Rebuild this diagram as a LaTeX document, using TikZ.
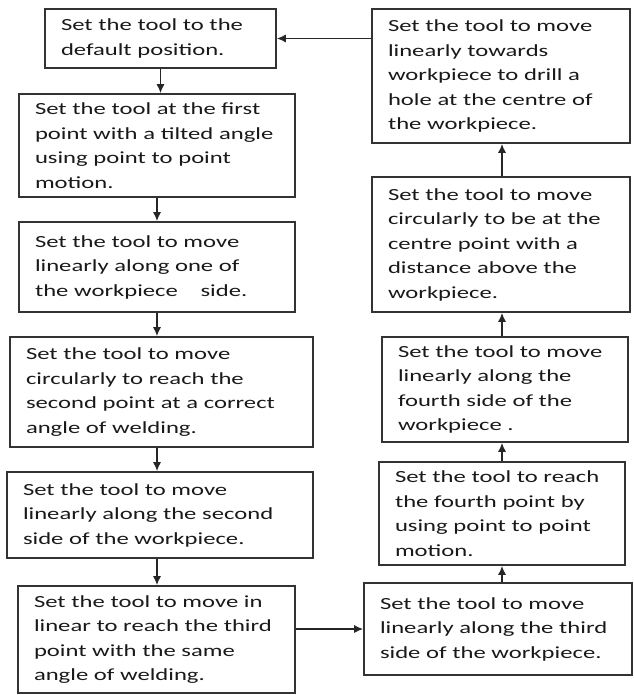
\documentclass[tikz,border=0pt]{standalone}
\usepackage{fontspec}
\setmainfont{Carlito}[FakeStretch=1.45]
\usetikzlibrary{positioning,arrows.meta}
\tikzset{
  stepbox/.style={rectangle,draw=black!80,line width=1.6pt,align=left,
    inner xsep=16pt,inner ysep=0pt,text=black!90,
    font=\fontsize{17}{24.5}\selectfont},
  flowarr/.style={-{Latex[length=9pt,width=8pt]},line width=1.4pt,black!85},
}
\begin{document}
\begin{tikzpicture}[x=1pt,y=-1pt]
  \useasboundingbox (0,0) rectangle (633,695);
  % left column, top to bottom
  \node[stepbox,minimum width=231pt,minimum height=59pt,text width=199pt] (L1) at (160.5,38.5)
    {Set the tool to the\\default position.};
  \node[stepbox,minimum width=276pt,minimum height=103pt,text width=244pt] (L2) at (157,145.5)
    {Set the tool at the first\\point with a tilted angle\\using point to point\\motion.};
  \node[stepbox,minimum width=276pt,minimum height=90pt,text width=244pt] (L3) at (157,267)
    {Set the tool to move\\linearly along one of\\the workpiece\quad\ side.};
  \node[stepbox,minimum width=303pt,minimum height=110pt,text width=271pt] (L4) at (161.5,392)
    {Set the tool to move\\circularly to reach the\\second point at a correct\\angle of welding.};
  \node[stepbox,minimum width=306pt,minimum height=86pt,text width=274pt] (L5) at (160,515)
    {Set the tool to move\\linearly along the second\\side of the workpiece.};
  \node[stepbox,minimum width=277pt,minimum height=107pt,text width=245pt] (L6) at (156.5,639.5)
    {Set the tool to move in\\linear to reach the third\\point with the same\\angle of welding.};
  % right column, bottom to top
  \node[stepbox,minimum width=268pt,minimum height=92pt,text width=236pt] (R5) at (498,629)
    {Set the tool to move\\linearly along the third\\side of the workpiece.};
  \node[stepbox,minimum width=246pt,minimum height=103pt,text width=214pt] (R4) at (502,513.5)
    {Set the tool to reach\\the fourth point by\\using point to point\\motion.};
  \node[stepbox,minimum width=246pt,minimum height=105pt,text width=214pt] (R3) at (505,389.5)
    {Set the tool to move\\linearly along the\\fourth side of the\\workpiece .};
  \node[stepbox,minimum width=258pt,minimum height=135pt,text width=226pt] (R2) at (501,244.5)
    {Set the tool to move\\circularly to be at the\\centre point with a\\distance above the\\workpiece.};
  \node[stepbox,minimum width=258pt,minimum height=134pt,text width=226pt] (R1) at (501,76)
    {Set the tool to move\\linearly towards\\workpiece to drill a\\hole at the centre of\\the workpiece.};
  % connectors
  \draw[flowarr] (L1.south) -- (L1.south |- L2.north);
  \draw[flowarr] (L2.south) -- (L2.north |- L3.north);
  \draw[flowarr] (L3.south) -- (L3.south |- L4.north);
  \draw[flowarr] (L3.south |- L4.south) -- (L3.south |- L5.north);
  \draw[flowarr] (L3.south |- L5.south) -- (L3.south |- L6.north);
  \draw[flowarr] (L6.east |- R5.west) -- (R5.west);
  \draw[flowarr] (R4.south |- R5.north) -- (R4.south);
  \draw[flowarr] (R4.north) -- (R4.north |- R3.south);
  \draw[flowarr] (R4.north |- R3.north) -- (R4.north |- R2.south);
  \draw[flowarr] (R4.north |- R2.north) -- (R4.north |- R1.south);
  \draw[flowarr] (R1.west |- L1.east) -- (L1.east);
\end{tikzpicture}
\end{document}
